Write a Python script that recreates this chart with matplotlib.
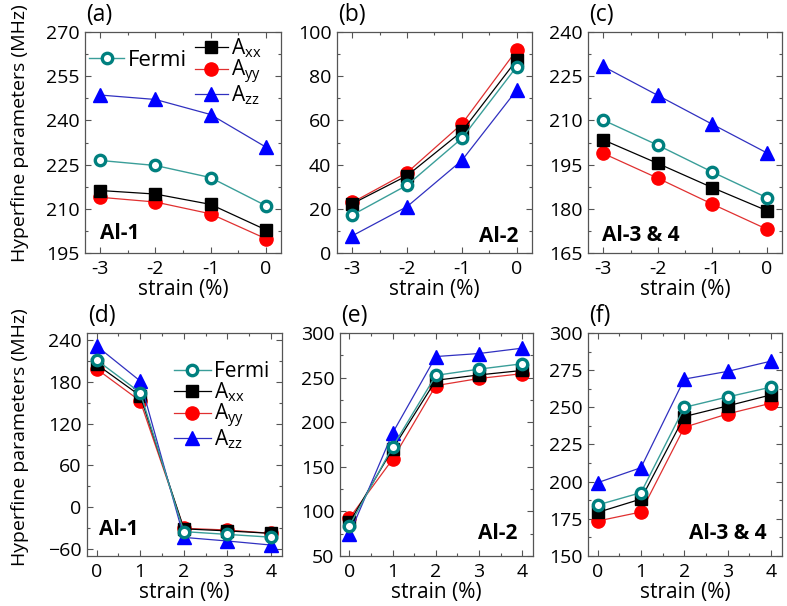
import matplotlib
matplotlib.use("Agg")
import matplotlib.pyplot as plt
from matplotlib.ticker import MultipleLocator, AutoMinorLocator

plt.rcParams['font.family'] = ['Open Sans', 'DejaVu Sans']
plt.rcParams['mathtext.fontset'] = 'custom'
plt.rcParams['mathtext.rm'] = 'Open Sans'
plt.rcParams['mathtext.it'] = 'Open Sans'

# ---------------- data ----------------
strain_comp = [-3, -2, -1, 0]
strain_tens = [0, 1, 2, 3, 4]

# (a) Al-1 compressive
a_fermi = [226.4, 224.7, 220.6, 211.1]
a_axx = [216.2, 215.0, 211.5, 202.9]
a_ayy = [213.9, 212.3, 208.3, 199.9]
a_azz = [248.6, 247.1, 242.0, 231.0]

# (b) Al-2 compressive
b_fermi = [17.2, 30.7, 51.9, 84.3]
b_axx = [22.3, 35.0, 55.0, 87.3]
b_ayy = [22.9, 36.4, 58.4, 91.8]
b_azz = [7.8, 21.0, 41.9, 73.7]

# (c) Al-3 & 4 compressive
c_fermi = [210.1, 201.6, 192.5, 183.8]
c_axx = [203.4, 195.4, 187.2, 179.4]
c_ayy = [198.8, 190.4, 181.6, 173.1]
c_azz = [228.3, 218.5, 208.7, 199.0]

# (d) Al-1 tensile
d_fermi = [211.3, 164.4, -35.0, -39.0, -43.0]
d_axx = [205.0, 160.0, -31.0, -34.0, -37.5]
d_ayy = [198.4, 152.4, -30.3, -32.7, -37.5]
d_azz = [231.4, 181.1, -43.3, -48.5, -54.3]

# (e) Al-2 tensile
e_fermi = [84.0, 172.5, 252.5, 259.5, 265.5]
e_axx = [87.7, 170.0, 247.0, 253.0, 258.0]
e_ayy = [92.6, 158.6, 241.0, 249.0, 254.4]
e_azz = [74.5, 188.0, 273.6, 277.0, 283.0]

# (f) Al-3 & 4 tensile
f_fermi = [184.3, 192.6, 250.0, 257.0, 263.6]
f_axx = [179.3, 188.3, 243.8, 251.0, 258.4]
f_ayy = [173.5, 179.6, 236.6, 245.6, 252.8]
f_azz = [199.3, 209.4, 269.0, 274.2, 281.1]

labels = ['Fermi', r'A$_{xx}$', r'A$_{yy}$', r'A$_{zz}$']
panel_letters = ['(a)', '(b)', '(c)', '(d)', '(e)', '(f)']
site_names = ['Al-1', 'Al-2', 'Al-3 & 4', 'Al-1', 'Al-2', 'Al-3 & 4']
xlabel = 'strain (%)'
ylabel = 'Hyperfine parameters (MHz)'

# ---------------- layout ----------------
W, H = 787, 606
fig = plt.figure(figsize=(W / 100, H / 100), dpi=100)

def box(l, r, t, b):
    return [l / W, 1 - b / H, (r - l) / W, (b - t) / H]

boxes = [box(85, 281, 32, 253), box(337, 532, 32, 253), box(588, 782, 32, 253),
         box(87, 282, 333, 556), box(340, 533, 333, 556), box(588, 782, 333, 556)]

ylims = [(195, 270), (0, 100), (165, 240), (-70, 250), (50, 300), (150, 300)]
ymaj = [15, 20, 15, 60, 50, 25]

datasets = [(a_fermi, a_axx, a_ayy, a_azz), (b_fermi, b_axx, b_ayy, b_azz),
            (c_fermi, c_axx, c_ayy, c_azz), (d_fermi, d_axx, d_ayy, d_azz),
            (e_fermi, e_axx, e_ayy, e_azz), (f_fermi, f_axx, f_ayy, f_azz)]

teal = '#00807f'
teal_line = '#3a9e99'
spine_col = '#555555'

site_pos = [(0.075, 0.09, 'left'), (0.93, 0.075, 'right'), (0.072, 0.077, 'left'),
            (0.062, 0.117, 'left'), (0.917, 0.103, 'right'), (0.923, 0.103, 'right')]

axes = []
for i in range(6):
    ax = fig.add_axes(boxes[i])
    axes.append(ax)
    xs = strain_comp if i < 3 else strain_tens
    fermi, axx, ayy, azz = datasets[i]
    hf, = ax.plot(xs, fermi, '-o', color=teal_line, lw=1.0, ms=7.5, mfc='white',
                  mec=teal, mew=2.4, zorder=6)
    hx, = ax.plot(xs, axx, '-s', color='black', lw=0.9, ms=8.5, mfc='black', mec='black', zorder=4)
    hy, = ax.plot(xs, ayy, '-o', color='#e03030', lw=0.9, ms=9.5, mfc='#ff0000', mec='#ff0000', zorder=3)
    hz, = ax.plot(xs, azz, '-^', color='#3030c0', lw=0.9, ms=10.5, mfc='#0000ff', mec='#0000ff', zorder=5)
    if i < 3:
        ax.set_xlim(-3.28, 0.28)
        ax.set_xticks(strain_comp)
        ax.set_xticklabels([str(v) for v in strain_comp])
    else:
        ax.set_xlim(-0.22, 4.25)
        ax.set_xticks(strain_tens)
    ax.xaxis.set_minor_locator(MultipleLocator(0.5))
    ax.set_ylim(*ylims[i])
    ax.yaxis.set_major_locator(MultipleLocator(ymaj[i]))
    ax.yaxis.set_minor_locator(AutoMinorLocator(2))
    ax.tick_params(which='both', direction='in', top=True, right=True, color=spine_col,
                   labelsize=14, width=0.8)
    ax.tick_params(which='major', length=4.5, pad=4)
    ax.tick_params(which='minor', length=2.5)
    ax.tick_params(axis='x', pad=5)
    for s in ax.spines.values():
        s.set_color(spine_col)
        s.set_linewidth(0.9)
    ax.set_xlabel(xlabel, fontsize=15, labelpad=1)
    sx, sy, ha = site_pos[i]
    ax.text(sx, sy, site_names[i], transform=ax.transAxes, ha=ha, va='center',
            fontsize=15, fontweight='bold')
    fig.text(boxes[i][0] + 1 / W, boxes[i][1] + boxes[i][3] + 17 / H, panel_letters[i],
             ha='left', va='center', fontsize=16.5)

    if i == 0:
        l1 = ax.legend([hf], [labels[0]], loc='center left', bbox_to_anchor=(0.02, 0.87),
                       frameon=False, fontsize=16, handlelength=1.6, handletextpad=0.15,
                       borderaxespad=0.0, borderpad=0.0)
        ax.add_artist(l1)
        ax.legend([hx, hy, hz], labels[1:], loc='center left', bbox_to_anchor=(0.56, 0.82),
                  frameon=False, fontsize=15, handlelength=1.6, handletextpad=0.15,
                  labelspacing=-0.1, borderaxespad=0.0, borderpad=0.0)
    if i == 3:
        ax.legend([hf, hx, hy, hz], labels, loc='upper left', bbox_to_anchor=(0.38, 0.93),
                  frameon=False, fontsize=15, handlelength=1.8, handletextpad=0.15,
                  labelspacing=-0.1, borderaxespad=0.2)

fig.text(20 / W, 1 - 133 / H, ylabel, rotation=90, ha='center', va='center', fontsize=14)
fig.text(20 / W, 1 - 437 / H, ylabel, rotation=90, ha='center', va='center', fontsize=14)

fig.savefig('out.png', dpi=100)
